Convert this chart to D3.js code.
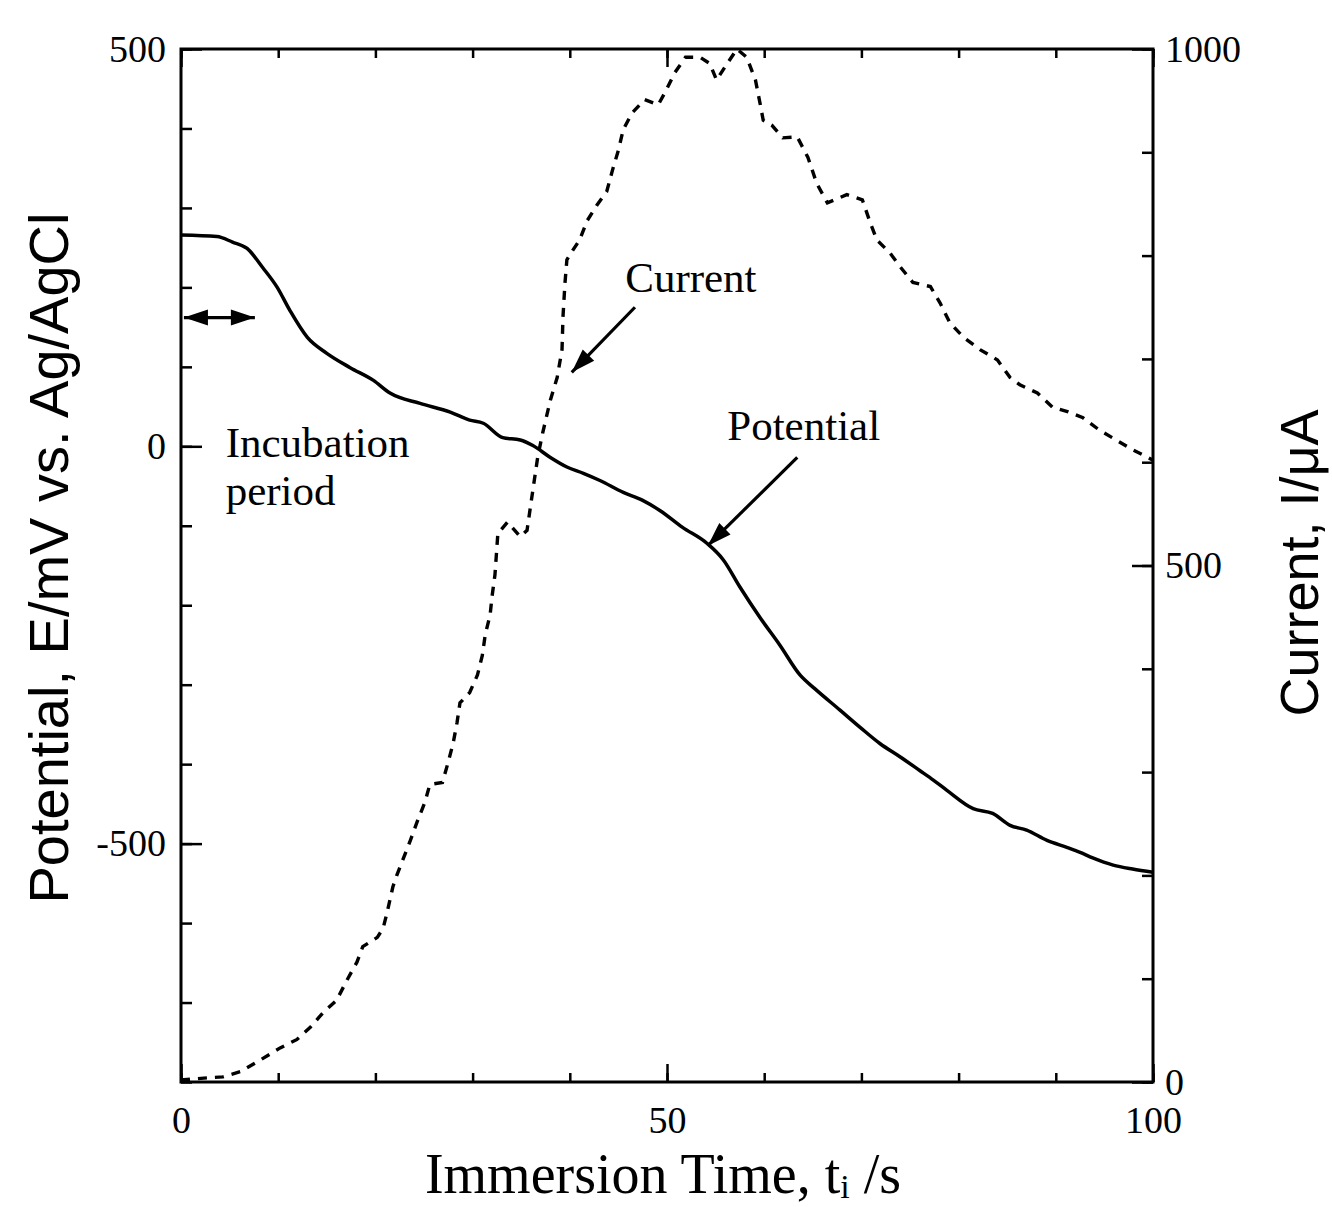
<!DOCTYPE html>
<html>
<head>
<meta charset="utf-8">
<script src="https://cdn.jsdelivr.net/npm/d3@7"></script>
<style>
  html, body { margin: 0; padding: 0; background: #fff; }
  svg { display: block; }
</style>
</head>
<body>
<svg id="chart" width="1332" height="1207"></svg>
<script>
// Immersion time (s) and open-circuit potential (mV vs. Ag/AgCl)
const potentialTime = [0, 3.7, 5.3, 6.8, 8.4, 9.9, 11.2, 13.0, 15.0, 17.4, 19.8, 21.5, 24.6, 27.7, 29.7, 31.1,
  33.1, 34.9, 36.2, 38.0, 39.7, 41.4, 43.1, 45.5, 47.5, 49.3, 51.6, 54.1, 55.8, 57.5, 59.6, 61.6, 63.7,
  65.2, 67.8, 69.9, 71.9, 74.0, 76.0, 77.4, 78.8, 81.5, 83.5, 85.3, 87.0, 89.1, 91.2, 92.5, 93.8, 95.9, 97.9, 100];
const potentialMV = [266, 264, 257, 249, 225, 200, 171, 137, 117, 99, 83, 67, 54, 43, 33, 29,
  11, 8, 1, -14, -26, -34, -43, -58, -68, -81, -102, -122, -143, -177, -216, -250, -288,
  -305, -332, -354, -374, -391, -408, -420, -433, -456, -462, -477, -483, -496, -505, -511, -518, -527, -532, -536];

// Immersion time (s) and galvanic current (µA)
const currentTime = [0, 2.7, 4.3, 6.1, 8.1, 10.2, 11.9, 13.3, 14.6, 16.0, 17.1, 18.1, 18.7, 20.2, 20.8, 21.2,
  21.8, 22.2, 23.6, 24.3, 25.1, 25.6, 26.9, 27.5, 28.0, 28.4, 28.7, 29.7, 30.5, 31.0, 31.3, 31.8, 32.0,
  32.3, 32.6, 33.6, 34.9, 35.6, 36.2, 36.7, 37.2, 38.0, 38.7, 39.2, 39.3, 39.5, 39.7, 40.3, 41.0, 41.8,
  42.8, 43.8, 44.4, 45.0, 45.5, 46.4, 47.7, 49.1, 49.8, 50.8, 51.9, 53.4, 54.4, 55.1, 56.2, 57.2, 58.2,
  59.1, 59.6, 59.9, 60.8, 61.9, 63.4, 64.5, 65.4, 66.5, 68.5, 70.1, 70.9, 71.6, 72.9, 74.0, 75.3, 77.1,
  78.1, 79.1, 80.5, 82.2, 84.0, 85.3, 86.3, 88.1, 89.7, 91.2, 92.8, 94.5, 96.3, 97.9, 99.4, 100];
const currentUA = [2, 4, 5, 10, 21, 33, 41, 53, 67, 79, 99, 116, 131, 140, 149, 164,
  189, 200, 234, 252, 271, 288, 290, 310, 328, 348, 367, 377, 394, 413, 433, 452, 470,
  491, 531, 542, 528, 534, 573, 605, 628, 660, 682, 709, 741, 773, 796, 805, 815, 834,
  849, 862, 883, 902, 922, 938, 951, 946, 958, 977, 992, 992, 986, 970, 986, 1000, 992,
  970, 946, 931, 926, 914, 915, 895, 870, 851, 859, 854, 832, 815, 803, 789, 774, 770,
  754, 735, 721, 709, 699, 682, 675, 667, 653, 649, 643, 631, 621, 612, 605, 602];

// Axis ticks
const timeMajorTicks = [0, 50, 100];
const timeMinorTicks = d3.range(0, 101, 10);
const potentialMajorTicks = [-500, 0, 500];
const potentialMinorTicks = d3.range(-800, 501, 100);
const currentMajorTicks = [0, 500, 1000];
const currentMinorTicks = d3.range(0, 1001, 100);

// Axis titles and annotation texts
const xTitle = ["Immersion Time, t", "i", " /s"];
const yLeftTitle = "Potential, E/mV vs. Ag/AgCl";
const yRightTitle = "Current, I/\u03bcA";
const labelCurrent = "Current";
const labelPotential = "Potential";
const labelIncubation = ["Incubation", "period"];

const plot = { left: 181, right: 1153, top: 49, bottom: 1082 };

const svg = d3.select("#chart");
const serif = "'Liberation Serif', 'Times New Roman', serif";
const sans = "'Liberation Sans', Arial, sans-serif";
const tickFont = 38;
const plainNumber = d => String(d);   // hyphen-minus, as printed on the axes

const x = d3.scaleLinear().domain([0, 100]).range([plot.left, plot.right]);
const yE = d3.scaleLinear().domain([-800, 500]).range([plot.bottom, plot.top]);
const yI = d3.scaleLinear().domain([0, 1000]).range([plot.bottom, plot.top]);

function styleAxis(g) {
  g.select(".domain").remove();
  g.selectAll(".tick line").attr("stroke", "#000").attr("stroke-width", 2.5);
  g.selectAll(".tick text").attr("fill", "#000").style("font-family", serif).style("font-size", tickFont + "px");
}

// Bottom axis
svg.append("g").attr("transform", `translate(0,${plot.bottom})`)
  .call(d3.axisBottom(x).tickValues(timeMinorTicks).tickSizeInner(-9).tickSizeOuter(0).tickFormat(""))
  .call(styleAxis);
svg.append("g").attr("transform", `translate(0,${plot.bottom})`)
  .call(d3.axisBottom(x).tickValues(timeMajorTicks).tickSizeInner(-18).tickSizeOuter(0).tickPadding(24).tickFormat(plainNumber))
  .call(styleAxis);

// Top axis (ticks only)
svg.append("g").attr("transform", `translate(0,${plot.top})`)
  .call(d3.axisTop(x).tickValues(timeMinorTicks).tickSizeInner(-9).tickSizeOuter(0).tickFormat(""))
  .call(styleAxis);
svg.append("g").attr("transform", `translate(0,${plot.top})`)
  .call(d3.axisTop(x).tickValues(timeMajorTicks).tickSizeInner(-18).tickSizeOuter(0).tickFormat(""))
  .call(styleAxis);

// Left axis: potential
svg.append("g").attr("transform", `translate(${plot.left},0)`)
  .call(d3.axisLeft(yE).tickValues(potentialMinorTicks).tickSizeInner(-11).tickSizeOuter(0).tickFormat(""))
  .call(styleAxis);
svg.append("g").attr("transform", `translate(${plot.left},0)`)
  .call(d3.axisLeft(yE).tickValues(potentialMajorTicks).tickSizeInner(-21).tickSizeOuter(0).tickPadding(15).tickFormat(plainNumber))
  .call(styleAxis);

// Right axis: current
svg.append("g").attr("transform", `translate(${plot.right},0)`)
  .call(d3.axisRight(yI).tickValues(currentMinorTicks).tickSizeInner(-11).tickSizeOuter(0).tickFormat(""))
  .call(styleAxis);
svg.append("g").attr("transform", `translate(${plot.right},0)`)
  .call(d3.axisRight(yI).tickValues(currentMajorTicks).tickSizeInner(-21).tickSizeOuter(0).tickPadding(12).tickFormat(plainNumber))
  .call(styleAxis);

// Plot frame
svg.append("rect")
  .attr("x", plot.left).attr("y", plot.top)
  .attr("width", plot.right - plot.left).attr("height", plot.bottom - plot.top)
  .attr("fill", "none").attr("stroke", "#000").attr("stroke-width", 3);

// Curves
const potentialData = potentialTime.map((t, i) => [t, potentialMV[i]]);
const currentData = currentTime.map((t, i) => [t, currentUA[i]]);

svg.append("path")
  .datum(currentData)
  .attr("fill", "none").attr("stroke", "#000").attr("stroke-width", 3.4)
  .attr("stroke-dasharray", "9,8")
  .attr("d", d3.line().x(d => x(d[0])).y(d => yI(d[1])).curve(d3.curveLinear));

svg.append("path")
  .datum(potentialData)
  .attr("fill", "none").attr("stroke", "#000").attr("stroke-width", 3.5)
  .attr("stroke-linejoin", "round")
  .attr("d", d3.line().x(d => x(d[0])).y(d => yE(d[1])).curve(d3.curveMonotoneX));

// Arrow helper: shaft plus filled head at the tip (and optionally the tail)
function arrow(x1, y1, x2, y2, both) {
  const g = svg.append("g");
  const len = 24, half = 8;
  const ang = Math.atan2(y2 - y1, x2 - x1);
  const head = (tx, ty, a) => {
    const bx = tx - len * Math.cos(a), by = ty - len * Math.sin(a);
    const px = -Math.sin(a) * half, py = Math.cos(a) * half;
    g.append("polygon")
      .attr("points", `${tx},${ty} ${bx + px},${by + py} ${bx - px},${by - py}`)
      .attr("fill", "#000");
  };
  g.append("line").attr("x1", x1).attr("y1", y1).attr("x2", x2).attr("y2", y2)
    .attr("stroke", "#000").attr("stroke-width", 3.2);
  head(x2, y2, ang);
  if (both) head(x1, y1, ang + Math.PI);
}

arrow(x(46.7), yI(750), x(40.2), yI(687), false);
arrow(x(63.4), yE(-14), x(54.2), yE(-125), false);
arrow(x(0.3), yE(162), x(7.6), yE(162), true);

// Annotation texts
const ann = svg.append("g").style("font-family", serif).style("font-size", "43px").attr("fill", "#000");
ann.append("text").attr("x", x(45.7)).attr("y", yE(194)).text(labelCurrent);
ann.append("text").attr("x", x(56.2)).attr("y", yE(7.6)).text(labelPotential);
ann.append("text").attr("x", x(4.6)).attr("y", yE(-14)).text(labelIncubation[0]);
ann.append("text").attr("x", x(4.6)).attr("y", yE(-74)).text(labelIncubation[1]);

// X axis title
const xt = svg.append("text")
  .attr("x", (plot.left + plot.right) / 2 - 4).attr("y", 1193)
  .attr("text-anchor", "middle")
  .style("font-family", serif).style("font-size", "56px").attr("fill", "#000");
xt.append("tspan").text(xTitle[0]);
xt.append("tspan").attr("dy", 5).style("font-size", "34px").text(xTitle[1]);
xt.append("tspan").attr("dy", -5).text(xTitle[2]);

// Left y axis title
svg.append("text")
  .attr("transform", `translate(68,558) rotate(-90)`)
  .attr("text-anchor", "middle")
  .style("font-family", sans).style("font-size", "56px").attr("fill", "#000")
  .text(yLeftTitle);

// Right y axis title
svg.append("text")
  .attr("transform", `translate(1318,563) rotate(-90)`)
  .attr("text-anchor", "middle")
  .style("font-family", sans).style("font-size", "54px").attr("fill", "#000")
  .text(yRightTitle);
</script>
</body>
</html>
